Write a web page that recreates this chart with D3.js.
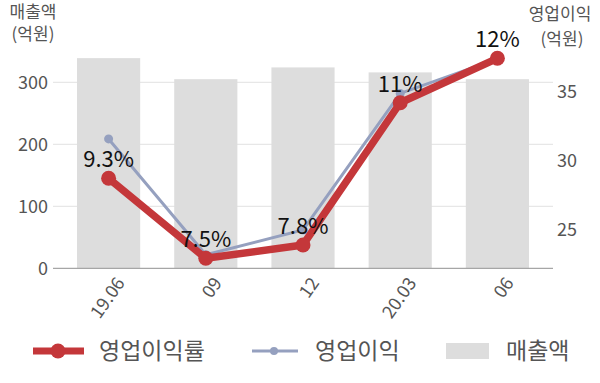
<!DOCTYPE html>
<html>
<head>
<meta charset="utf-8">
<script src="https://cdn.jsdelivr.net/npm/d3@7"></script>
<style>
  body { margin: 0; background: #fff; }
  svg { font-family: "Noto Sans CJK KR", "Noto Sans", sans-serif; }
</style>
</head>
<body>
<svg id="chart" width="600" height="383"></svg>
<script>
var categories = ["19.06", "09", "12", "20.03", "06"];
var sales = [339, 305, 324, 316, 305];
var opIncome = [31.6, 23.2, 25.0, 34.9, 37.4];
var margin = [9.3, 7.5, 7.8, 11, 12];
var marginLabels = ["9.3%", "7.5%", "7.8%", "11%", "12%"];
var leftTicks = [0, 100, 200, 300];
var rightTicks = [25, 30, 35];

var svg = d3.select("#chart");
var plotTop = 20.3, plotBottom = 268.3;

var x = d3.scaleBand().domain(categories).range([60, 546])
  .paddingInner(0.35).paddingOuter(0.175);
var yL = d3.scaleLinear().domain([0, 400]).range([plotBottom, plotTop]);
var yR = d3.scaleLinear().domain([22.22, 40.2]).range([plotBottom, plotTop]);
var yP = d3.scaleLinear().domain([7.275, 12.855]).range([plotBottom, plotTop]);

var data = categories.map(function (c, i) {
  return { cat: c, sales: sales[i], op: opIncome[i], m: margin[i], label: marginLabels[i] };
});

// grid
svg.selectAll(".grid").data(leftTicks.slice(1)).enter().append("line")
  .attr("x1", 53).attr("x2", 553)
  .attr("y1", function (d) { return yL(d); })
  .attr("y2", function (d) { return yL(d); })
  .style("stroke", "#e2e2e2").style("stroke-width", 1);

// bars
svg.selectAll(".bar").data(data).enter().append("rect")
  .attr("x", function (d) { return x(d.cat); })
  .attr("width", x.bandwidth())
  .attr("y", function (d) { return yL(d.sales); })
  .attr("height", function (d) { return plotBottom - yL(d.sales); })
  .style("fill", "#dddddd");

// baseline
svg.append("line").attr("x1", 53).attr("x2", 553)
  .attr("y1", plotBottom).attr("y2", plotBottom)
  .style("stroke", "#a6a6a6").style("stroke-width", 1.3);

// left axis labels
svg.selectAll(".lt").data(leftTicks).enter().append("text")
  .attr("x", 48).attr("y", function (d) { return yL(d); })
  .attr("dy", "0.35em").attr("text-anchor", "end")
  .style("font-size", "18px").style("fill", "#555")
  .text(function (d) { return d; });

// right axis labels
svg.selectAll(".rt").data(rightTicks).enter().append("text")
  .attr("x", 557).attr("y", function (d) { return yR(d); })
  .attr("dy", "0.35em").attr("text-anchor", "start")
  .style("font-size", "18px").style("fill", "#555")
  .text(function (d) { return d; });

// axis titles
svg.append("text").attr("x", 33).attr("y", 18).attr("text-anchor", "middle")
  .style("font-size", "17px").style("fill", "#555").text("매출액");
svg.append("text").attr("x", 33).attr("y", 40).attr("text-anchor", "middle")
  .style("font-size", "17px").style("fill", "#555").text("(억원)");
svg.append("text").attr("x", 560).attr("y", 20).attr("text-anchor", "middle")
  .style("font-size", "17px").style("fill", "#555").text("영업이익");
svg.append("text").attr("x", 562).attr("y", 45).attr("text-anchor", "middle")
  .style("font-size", "17px").style("fill", "#555").text("(억원)");

// x labels
svg.selectAll(".xl").data(categories).enter().append("text")
  .attr("transform", function (d) {
    return "translate(" + (x(d) + x.bandwidth() / 2 + 17) + "," + 283 + ") rotate(-55)";
  })
  .attr("text-anchor", "end")
  .style("font-size", "18px").style("fill", "#555")
  .text(function (d) { return d; });

var cx = function (d) { return x(d.cat) + x.bandwidth() / 2; };

// operating income line
svg.append("path").datum(data)
  .attr("d", d3.line().x(cx).y(function (d) { return yR(d.op); }))
  .style("fill", "none").style("stroke", "#95a0bf").style("stroke-width", 3);
svg.selectAll(".opdot").data(data).enter().append("circle")
  .attr("cx", cx).attr("cy", function (d) { return yR(d.op); })
  .attr("r", 4.5).style("fill", "#95a0bf");

// margin line
svg.append("path").datum(data)
  .attr("d", d3.line().x(cx).y(function (d) { return yP(d.m); }))
  .style("fill", "none").style("stroke", "#c4373a").style("stroke-width", 7.5)
  .style("stroke-linejoin", "round");
svg.selectAll(".mdot").data(data).enter().append("circle")
  .attr("cx", cx).attr("cy", function (d) { return yP(d.m); })
  .attr("r", 7.5).style("fill", "#c4373a");

// margin labels
svg.selectAll(".ml").data(data).enter().append("text")
  .attr("x", cx).attr("y", function (d) { return yP(d.m) - 11; })
  .attr("text-anchor", "middle")
  .style("font-size", "22px").style("fill", "#111")
  .text(function (d) { return d.label; });

// legend
var ly = 351;
svg.append("line").attr("x1", 33).attr("x2", 84).attr("y1", ly).attr("y2", ly)
  .style("stroke", "#c4373a").style("stroke-width", 7);
svg.append("circle").attr("cx", 58).attr("cy", ly).attr("r", 7.5).style("fill", "#c4373a");
svg.append("text").attr("x", 99).attr("y", ly).attr("dy", "0.35em")
  .style("font-size", "23px").style("fill", "#555").text("영업이익률");

svg.append("line").attr("x1", 252).attr("x2", 298).attr("y1", ly).attr("y2", ly)
  .style("stroke", "#95a0bf").style("stroke-width", 3);
svg.append("circle").attr("cx", 274).attr("cy", ly).attr("r", 4).style("fill", "#95a0bf");
svg.append("text").attr("x", 315).attr("y", ly).attr("dy", "0.35em")
  .style("font-size", "23px").style("fill", "#555").text("영업이익");

svg.append("rect").attr("x", 446).attr("y", ly - 8).attr("width", 43).attr("height", 16)
  .style("fill", "#dddddd");
svg.append("text").attr("x", 506).attr("y", ly).attr("dy", "0.35em")
  .style("font-size", "23px").style("fill", "#555").text("매출액");
</script>
</body>
</html>
